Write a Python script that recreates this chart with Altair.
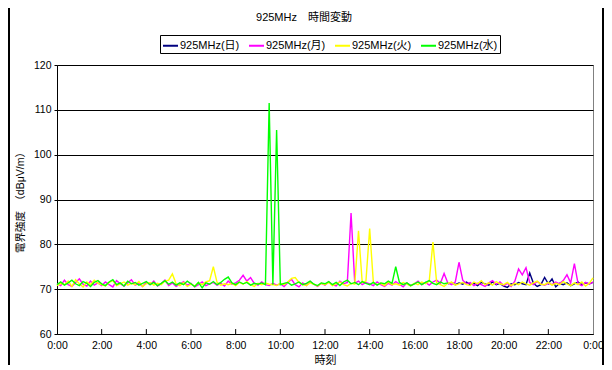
import altair as alt
import pandas as pd

# ---- data (10-minute samples, hours from 0:00) ----
chart_title = "925MHz　時間変動"
series_names = ["925MHz(日)", "925MHz(月)", "925MHz(火)", "925MHz(水)"]
series_colors = ["#000080", "#FF00FF", "#FFFF00", "#00FF00"]

# 925MHz(日): 17:30 - 24:00
sun_start = 105
sun = [71.2, 71.5, 71.0,
       71.4, 71.1, 71.6, 71.0, 71.3, 70.8, 71.5, 71.2, 70.9, 71.6, 71.0, 71.3,
       70.7, 70.4, 71.2, 71.0, 71.5, 71.2, 71.0, 73.6, 71.3, 70.6, 71.0, 72.6,
       71.2, 72.3, 70.5, 71.3, 71.0, 71.4, 70.8, 71.2, 71.6, 71.0, 71.4, 71.2,
       71.5]

# 925MHz(月): 0:00 - 24:00
mon = [71.2, 70.8, 72.0, 71.0, 70.6, 71.5, 72.3, 71.1, 70.7, 71.8, 70.9, 71.4,
       70.8, 71.6, 71.0, 70.5, 71.9, 71.2, 70.7, 71.4, 72.1, 70.9, 71.3, 70.6,
       71.5, 71.0, 71.8, 70.7, 71.2, 72.0, 70.8, 71.4, 70.6, 71.1, 71.7, 70.9,
       71.3, 70.5, 71.0, 71.6, 70.8, 71.2, 71.5, 70.9, 71.3, 70.7, 71.8, 71.1,
       71.4, 72.0, 73.1, 71.8, 72.6, 71.3, 70.9, 71.6, 71.0, 70.8, 71.3, 70.9,
       71.2, 70.6, 71.5, 72.2, 71.0, 70.5, 71.4, 70.8, 71.7, 71.1, 70.6, 71.3,
       70.9, 71.6, 71.0, 70.7, 71.8, 71.2, 71.5, 87.0, 71.3, 71.8, 71.0, 71.5,
       71.2, 70.8, 71.6, 71.0, 70.6, 71.3, 70.9, 71.7, 71.1, 70.5, 71.4, 70.8,
       71.2, 71.8, 71.0, 71.5, 70.9, 71.6, 72.0, 71.3, 73.5, 71.4, 71.0, 71.6,
       76.0, 72.0, 71.2, 71.5, 70.8, 71.3, 71.0, 70.6, 71.4, 71.9, 71.1, 71.6,
       70.8, 71.3, 70.6, 71.8, 74.5, 73.2, 74.8, 71.5, 71.0, 71.7, 71.2, 70.9,
       71.3, 71.0, 71.6, 71.2, 71.9, 73.2, 71.4, 75.7, 71.2, 70.8, 71.5, 71.1,
       71.6]

# 925MHz(火): 0:00 - 24:00
tue = [70.8, 71.3, 71.0, 71.8, 70.6, 72.1, 71.2, 70.5, 71.6, 71.0, 72.0, 71.3,
       71.0, 70.7, 71.5, 71.9, 70.8, 71.2, 71.6, 70.9, 71.3, 71.0, 71.7, 70.6,
       71.2, 71.5, 70.9, 71.3, 71.0, 71.8, 72.0, 73.4, 71.2, 70.8, 71.5, 70.6,
       71.1, 70.7, 71.4, 71.0, 71.6, 71.9, 75.0, 71.5, 70.9, 71.2, 71.0, 71.3,
       70.8, 71.5, 71.1, 71.7, 71.0, 70.6, 71.3, 71.0, 71.4, 71.1, 71.0, 70.8,
       71.3, 71.0, 71.6, 72.4, 72.6, 71.5, 71.0, 70.8, 71.4, 71.1, 70.7, 71.3,
       71.0, 71.5, 70.8, 71.2, 71.6, 71.0, 70.7, 71.3, 71.1, 83.0, 71.5, 71.8,
       83.5, 71.4, 71.0, 71.3, 70.8, 71.6, 71.0, 71.2, 70.9, 71.5, 71.1, 70.7,
       71.3, 71.0, 71.6, 71.2, 71.8, 80.5, 71.4, 71.0, 70.6, 71.3, 71.6, 70.9,
       71.2, 71.5, 71.0, 70.8, 71.6, 71.2, 71.9, 71.0, 71.4, 70.9, 71.7, 71.2,
       71.0, 71.5, 70.8, 71.3, 71.0, 71.6, 71.2, 70.9, 71.4, 71.8, 71.1, 71.0,
       71.5, 70.9, 71.3, 71.0, 71.7, 71.2, 70.8, 71.4, 71.0, 71.6, 70.7, 71.3,
       72.5]

# 925MHz(水): 0:00 - 17:30
wed = [71.0, 71.6, 70.9, 71.4, 72.0, 71.2, 70.8, 71.7, 71.3, 70.6, 71.5, 71.9,
       71.2, 70.8, 71.6, 72.1, 71.0, 71.4, 70.7, 71.8, 71.2, 71.5, 70.9, 71.3,
       71.7, 71.0, 71.5, 70.8, 71.3, 71.9, 71.1, 71.6, 70.9, 71.4, 71.0, 71.8,
       71.2, 70.6, 71.5, 70.3, 71.4, 71.1, 71.7, 71.0, 71.5, 72.2, 72.7, 71.4,
       71.0, 71.6, 71.2, 71.5, 70.9, 71.3, 71.1, 71.4, 71.0, 111.5, 71.0, 105.5,
       71.0, 71.3, 71.5, 70.9, 71.2, 71.6, 71.0, 71.3, 71.8, 71.1, 70.8, 71.4,
       71.2, 71.7, 71.0, 71.5, 70.8, 71.6, 72.0, 71.2, 71.5, 71.0, 71.7, 71.3,
       71.0, 71.5, 70.9, 71.4, 71.2, 71.8, 71.3, 75.0, 71.5, 71.0, 71.4, 70.8,
       71.2, 71.6, 71.0, 71.5, 71.9, 71.3, 71.0, 71.6, 71.2, 71.4]

x_ticks = list(range(0, 25, 2))
y_ticks = [60, 70, 80, 90, 100, 110, 120]

FONT = "Liberation Sans, Arial, Noto Sans CJK JP"

rows = []
for name, vals, start in [(series_names[0], sun, sun_start),
                          (series_names[1], mon, 0),
                          (series_names[2], tue, 0),
                          (series_names[3], wed, 0)]:
    for k, v in enumerate(vals):
        rows.append({"series": name, "t": (start + k) / 6.0, "v": v})
df = pd.DataFrame(rows)

xscale = alt.Scale(domain=[0, 24], nice=False, zero=False)
yscale = alt.Scale(domain=[60, 120], nice=False, zero=False)

lines = alt.Chart(df).mark_line(strokeWidth=1.4).encode(
    x=alt.X("t:Q", scale=xscale, title="時刻",
            axis=alt.Axis(values=x_ticks, labelExpr="(datum.value % 24) + ':00'",
                          ticks=False, grid=False, domainColor="black",
                          labelFlush=False, labelOverlap=False,
                          labelFontSize=10.5, labelColor="black", labelPadding=6,
                          titleFontSize=11, titleFontWeight="normal",
                          titleColor="black", titlePadding=4)),
    y=alt.Y("v:Q", scale=yscale, title="電界強度　（dBμV/m）",
            axis=alt.Axis(values=y_ticks, tickSize=3, tickColor="black",
                          grid=True, gridColor="black", gridWidth=1,
                          domainColor="black", labelFontSize=10.5,
                          labelFlush=False,
                          labelColor="black", labelPadding=3,
                          titleFontSize=10.5, titleFontWeight="normal",
                          titleColor="black", titlePadding=8)),
    color=alt.Color("series:N",
                    scale=alt.Scale(domain=series_names, range=series_colors),
                    legend=alt.Legend(orient="none", legendX=103, legendY=-30,
                                      direction="horizontal", columns=4,
                                      title=None, strokeColor="black",
                                      fillColor="white", padding=2,
                                      symbolType="stroke", symbolSize=225,
                                      symbolStrokeWidth=2, labelFontSize=11,
                                      labelColor="black", labelOffset=1,
                                      columnPadding=5, labelLimit=200)),
)

tick_df = pd.DataFrame({"t": x_ticks[1:-1], "y0": [60] * 11, "y1": [61.1] * 11})
inner_ticks = alt.Chart(tick_df).mark_rule(color="black", strokeWidth=1).encode(
    x=alt.X("t:Q", scale=xscale),
    y=alt.Y("y0:Q", scale=yscale),
    y2="y1:Q",
)

title_text = alt.Chart(pd.DataFrame({"title": [chart_title]})).mark_text(
    fontSize=11, color="black", baseline="middle", align="center").encode(
    text="title:N", x=alt.value(247), y=alt.value(-47))

frame = alt.Chart(pd.DataFrame({"k": [0]})).mark_rule(
    color="black", strokeWidth=2).encode(
    x=alt.value(-48), y=alt.value(-57), y2=alt.value(300))
frame_r = alt.Chart(pd.DataFrame({"k": [0]})).mark_rule(
    color="black", strokeWidth=2).encode(
    x=alt.value(546), y=alt.value(-57), y2=alt.value(300))

chart = alt.layer(lines, inner_ticks, title_text, frame, frame_r).properties(
    width=536, height=269,
    padding={"left": 49, "top": 57, "right": 11, "bottom": 32},
    autosize=alt.AutoSizeParams(type="none"),
).configure(font=FONT).configure_view(stroke="#808080", strokeWidth=1)

chart.save("out.html", embed_options={"renderer": "svg", "actions": False})
